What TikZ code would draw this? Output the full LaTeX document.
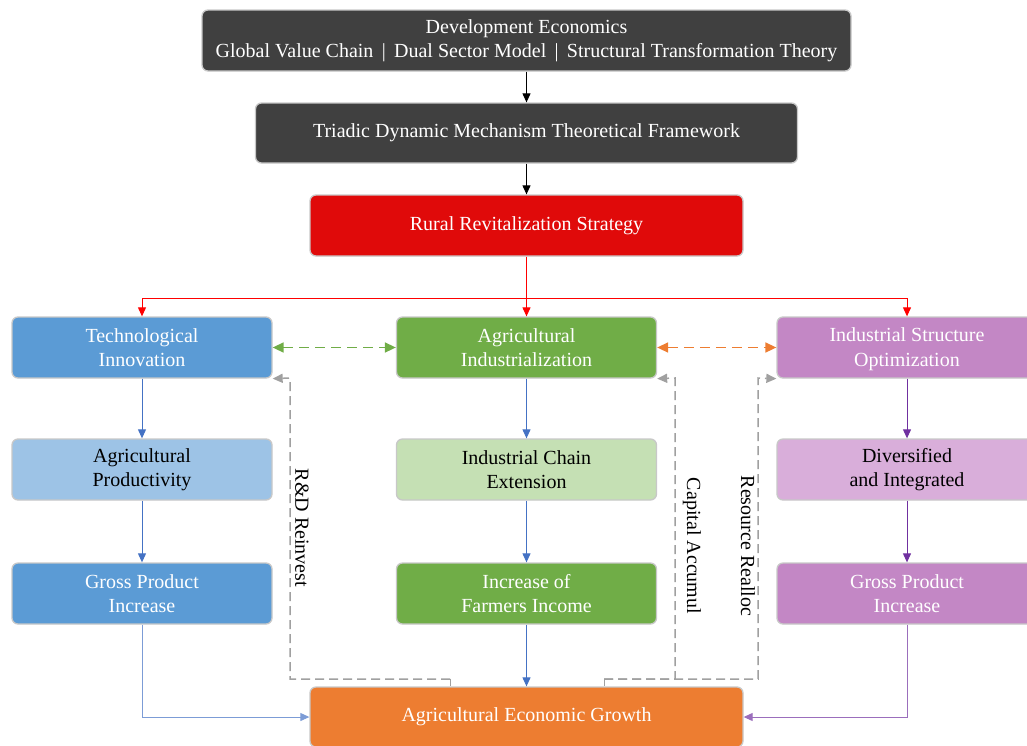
\documentclass[tikz,border=0pt]{standalone}
\usepackage{fontspec}
\setmainfont{Liberation Serif}
\usetikzlibrary{arrows.meta}
\definecolor{darkbox}{HTML}{404040}
\definecolor{redbox}{HTML}{E00A0A}
\definecolor{bluebox}{HTML}{5B9BD5}
\definecolor{lbluebox}{HTML}{9DC3E6}
\definecolor{greenbox}{HTML}{70AD47}
\definecolor{lgreenbox}{HTML}{C5E0B4}
\definecolor{purplebox}{HTML}{C387C5}
\definecolor{lpurplebox}{HTML}{D9AEDA}
\definecolor{orangebox}{HTML}{ED7D31}
\definecolor{blueline}{HTML}{4472C4}
\definecolor{purpleline}{HTML}{7030A0}
\definecolor{redline}{HTML}{FF0000}
\definecolor{fbgray}{HTML}{A0A0A0}
\definecolor{boxline}{HTML}{C8C8C8}
\tikzset{
  box/.style={draw=boxline, line width=1.3pt, rounded corners=6pt, minimum width=260pt,
    minimum height=61pt, align=center, inner sep=2pt, font=\fontsize{20}{24.5}\selectfont},
  light/.style={box, text=black},
  dark/.style={box, text=white},
  link/.style={-{Triangle[length=9pt,width=8pt]}, line width=1pt},
  twoway/.style={{Triangle[length=11pt,width=10pt]}-{Triangle[length=11pt,width=10pt]},
    line width=1.6pt, dash pattern=on 10pt off 6pt},
  feedback/.style={draw=fbgray, line width=1.5pt, dash pattern=on 9pt off 5pt,
    -{Triangle[length=10pt,width=9pt]}},
  stub/.style={draw=fbgray, line width=1pt},
  side/.style={rotate=-90, font=\fontsize{20}{24}\selectfont}
}
\begin{document}
\begin{tikzpicture}[x=1pt,y=-1pt]
\useasboundingbox (0,0) rectangle (1027,745);
\node[dark, fill=darkbox, minimum width=649pt] (theory) at (526.5,40.5)
  {Development Economics\\Global Value Chain \,|\, Dual Sector Model \,|\, Structural Transformation Theory};
\node[dark, fill=darkbox, minimum width=542pt, minimum height=60pt] (frame) at (526.5,133)
  {Triadic Dynamic Mechanism Theoretical Framework};
\node[dark, fill=redbox, minimum width=433pt] (rural) at (526.5,225.5) {Rural Revitalization Strategy};

\node[dark, fill=bluebox] (tech) at (142,347.5) {Technological\\Innovation};
\node[dark, fill=greenbox] (agri) at (526.5,347.5) {Agricultural\\Industrialization};
\node[dark, fill=purplebox] (iso) at (907,347.5) {Industrial Structure\strut\\Optimization};

\node[light, fill=lbluebox] (prod) at (142,469.5) {Agricultural\\Productivity};
\node[light, fill=lgreenbox] (chain) at (526.5,469.5) {Industrial Chain\\Extension};
\node[light, fill=lpurplebox] (divers) at (907,469.5) {Diversified\\and Integrated};

\node[dark, fill=bluebox] (gpleft) at (142,593.5) {Gross Product\\Increase};
\node[dark, fill=greenbox] (income) at (526.5,593.5) {Increase of\\Farmers Income};
\node[dark, fill=purplebox] (gpright) at (907,593.5) {Gross Product\\Increase};

\node[dark, fill=orangebox, minimum width=433pt, minimum height=60pt] (growth) at (526.5,717)
  {Agricultural Economic Growth};

\draw[link] (theory) -- (frame);
\draw[link] (frame) -- (rural);
\coordinate (split) at (526.5,298);
\draw[link, redline] (rural) -- (agri);
\draw[link, redline] (split) -| (tech);
\draw[link, redline] (split) -| (iso);

\draw[twoway, greenbox] (tech) -- (agri);
\draw[twoway, orangebox] (agri) -- (iso);

\draw[link, blueline] (tech) -- (prod);
\draw[link, blueline] (prod) -- (gpleft);
\draw[link, blueline] (agri) -- (chain);
\draw[link, blueline] (chain) -- (income);
\draw[link, blueline] (income) -- (growth);
\draw[link, purpleline] (iso) -- (divers);
\draw[link, purpleline] (divers) -- (gpright);
\draw[link, blueline!70] (gpleft) |- (growth);
\draw[link, purpleline!70] (gpright) |- (growth);

\coordinate (rd) at (450,679);
\coordinate (cap) at (604,679);
\draw[stub] (rd) -- (rd |- growth.north);
\draw[stub] (cap) -- (cap |- growth.north);
\draw[feedback] (rd) -| (290,378) -- (tech.south east);
\draw[feedback] (cap) -| (675,378) -- (agri.south east);
\draw[feedback] (cap) -| (758,378) -- (iso.south west);

\node[side] (rdlabel) at (302,528) {R\&D Reinvest};
\node[side] (caplabel) at (692,546) {Capital Accumul};
\node[side] (reslabel) at (748,546) {Resource Realloc};
\end{tikzpicture}
\end{document}
